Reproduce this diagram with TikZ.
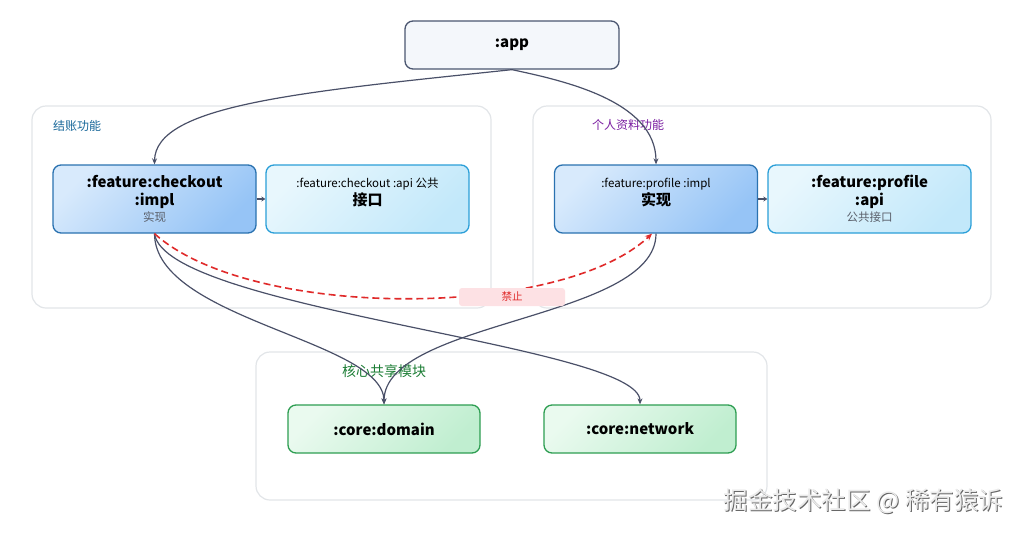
\documentclass[tikz,border=0pt]{standalone}
\usepackage{fontspec}
\setmainfont{Noto Sans CJK SC}
\usetikzlibrary{arrows.meta}
\definecolor{edgecol}{HTML}{4A5068}
\definecolor{appfill}{HTML}{F4F7FB}
\definecolor{appline}{HTML}{4B5670}
\definecolor{grpline}{HTML}{E2E5E8}
\definecolor{impltop}{HTML}{D8EAFC}
\definecolor{implbot}{HTML}{96C4F6}
\definecolor{implline}{HTML}{2A72B0}
\definecolor{apitop}{HTML}{E8F7FD}
\definecolor{apibot}{HTML}{C2E8FA}
\definecolor{apiline}{HTML}{2B9FD8}
\definecolor{coretop}{HTML}{EAFAEF}
\definecolor{corebot}{HTML}{C0EED0}
\definecolor{coreline}{HTML}{2E9E52}
\definecolor{txtA}{HTML}{19689A}
\definecolor{txtB}{HTML}{7B1FA2}
\definecolor{txtC}{HTML}{1B7D34}
\definecolor{forbid}{HTML}{E02A2A}
\definecolor{forbidfill}{HTML}{FDE1E4}
\definecolor{subtxt}{HTML}{5A5F6A}
\newcommand\titletxt{\fontsize{15}{17.5}\selectfont\bfseries}
\newcommand\smalltxt{\fontsize{11.5}{14}\selectfont\mdseries}
\newcommand\grptxt{\fontsize{12}{14}\selectfont}
\tikzset{
  box/.style={draw,rounded corners=8pt,line width=1.3pt,align=center,inner sep=2pt,text=black,font=\titletxt},
  appbox/.style={box,draw=appline,fill=appfill,minimum width=214pt,minimum height=48pt},
  implbox/.style={box,draw=implline,top color=impltop,bottom color=implbot,shading angle=45,minimum width=203pt,minimum height=68pt},
  apibox/.style={box,draw=apiline,top color=apitop,bottom color=apibot,shading angle=45,minimum width=203pt,minimum height=68pt},
  corebox/.style={box,draw=coreline,top color=coretop,bottom color=corebot,shading angle=45,minimum width=192pt,minimum height=48pt},
  grpbox/.style={draw=grpline,fill=white,rounded corners=14pt,line width=1.2pt},
  dep/.style={draw=edgecol,line width=1.2pt,-{Stealth[length=6pt,width=5pt]}},
}
\begin{document}
\begin{tikzpicture}[x=1pt,y=-1pt]
\useasboundingbox (0,0) rectangle (1024,533);
\node [grpbox,minimum width=459pt,minimum height=202pt,name=grpA] at (261.5,207){};
\node [grpbox,minimum width=458pt,minimum height=202pt,name=grpB] at (762,207){};
\node [grpbox,minimum width=511pt,minimum height=148pt,name=grpC] at (511.5,426){};
\node [text=txtA,name=labA] at (77,126){\grptxt 结账功能};
\node [text=txtB,name=labB] at (628,125){\grptxt 个人资料功能};
\node [text=txtC,name=labC] at (384,371){\fontsize{14}{16}\selectfont 核心共享模块};
\node [appbox,name=app] at (512,45){:app};
\node [implbox,name=coimpl] at (154.5,199){:feature:checkout\\:impl\\[-1pt]{\smalltxt\color{subtxt}实现}};
\node [apibox,name=coapi] at (367.5,199){{\smalltxt :feature:checkout :api 公共}\\接口\\[-3pt]\mbox{}};
\node [implbox,name=primpl] at (656,199){{\smalltxt :feature:profile :impl}\\实现\\[-3pt]\mbox{}};
\node [apibox,name=prapi] at (869.5,199){:feature:profile\\:api\\[-1pt]{\smalltxt\color{subtxt}公共接口}};
\node [corebox,name=domain] at (384,429){:core:domain};
\node [corebox,name=network] at (640,429){:core:network};
\draw[dep] (app.south) .. controls (300,92) and (155,105) .. (coimpl.north);
\draw[dep] (app.south) .. controls (560,80) and (656,100) .. (primpl.north);
\draw[dep,-{Stealth[length=4pt,width=5pt]}] (coimpl.east) -- (coapi.west);
\draw[dep,-{Stealth[length=4pt,width=5pt]}] (primpl.east) -- (prapi.west);
\draw[dep] (coimpl.south) .. controls (155,320) and (384,340) .. (domain.north);
\draw[dep] (coimpl.south) .. controls (165,310) and (640,345) .. (network.north);
\draw[dep] (primpl.south) .. controls (656,320) and (384,320) .. (domain.north);
\draw[draw=forbid,line width=1.6pt,dash pattern=on 7pt off 4pt,-{Stealth[length=7pt,width=6pt]}] (coimpl.south) .. controls (250,320) and (560,320) .. ([xshift=-4pt]primpl.south);
\node [fill=forbidfill,rounded corners=3pt,minimum width=106pt,minimum height=18pt,inner sep=0pt,text=forbid,name=ban] at (512,297){\fontsize{10.5}{12}\selectfont 禁止};
\node [text=black!60,name=wmshadow] at (864.5,502){\fontsize{24.5}{27}\selectfont 掘金技术社区 @ 稀有猿诉};
\node [text=black!8,name=wm] at (863.5,501){\fontsize{24.5}{27}\selectfont 掘金技术社区 @ 稀有猿诉};
\end{tikzpicture}
\end{document}
